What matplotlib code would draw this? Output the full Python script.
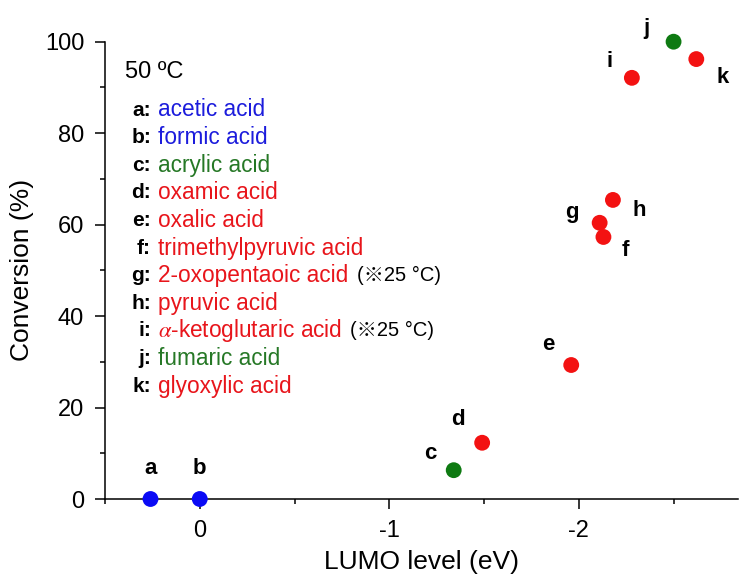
import matplotlib.pyplot as plt
from matplotlib.ticker import MultipleLocator

plt.rcParams['font.family'] = ['Liberation Sans', 'Noto Sans CJK JP', 'DejaVu Sans']
plt.rcParams['mathtext.fontset'] = 'stix'

# data
letters = ['a', 'b', 'c', 'd', 'e', 'f', 'g', 'h', 'i', 'j', 'k']
names = ['acetic acid', 'formic acid', 'acrylic acid', 'oxamic acid', 'oxalic acid',
         'trimethylpyruvic acid', '2-oxopentaoic acid', 'pyruvic acid',
         r'$\alpha$-ketoglutaric acid', 'fumaric acid', 'glyoxylic acid']
notes = ['', '', '', '', '', '', '(※25 °C)', '', '(※25 °C)', '', '']
lumo = [0.26, 0.0, -1.34, -1.49, -1.96, -2.13, -2.11, -2.18, -2.28, -2.50, -2.62]
conversion = [0.0, 0.0, 6.3, 12.3, 29.3, 57.3, 60.4, 65.4, 92.1, 100.0, 96.2]
groups = ['blue', 'blue', 'green', 'red', 'red', 'red', 'red', 'red', 'red', 'green', 'red']

# label offsets around each point (pixels, y up)
label_dx = [0, 0, -23, -24, -23, 22, -28, 26, -22, -27, 26]
label_dy = [31, 31, 17, 23, 21, -14, 10, -11, 16, 13, -18]

marker_colors = {'blue': '#0a0af5', 'green': '#0e7a12', 'red': '#f31212'}
text_colors = {'blue': '#1c1cdc', 'green': '#267826', 'red': '#e8151b'}

fig = plt.figure(figsize=(7.39, 5.83), dpi=100)
ax = fig.add_axes([105 / 739, 84 / 583, 633 / 739, 457.3 / 583])

ax.scatter(lumo, conversion, s=130, c=[marker_colors[g] for g in groups],
           zorder=3, clip_on=False, linewidths=0)

for x, y, lab, dx, dy in zip(lumo, conversion, letters, label_dx, label_dy):
    ax.annotate(lab, (x, y), xytext=(dx, dy), textcoords='offset pixels',
                ha='center', va='center', fontsize=16, fontweight='bold')

ax.set_xlim(0.5, -2.84)
ax.set_ylim(0, 100)
ax.spines['top'].set_visible(False)
ax.spines['right'].set_visible(False)
for sp in ['left', 'bottom']:
    ax.spines[sp].set_linewidth(1.1)

ax.xaxis.set_major_locator(MultipleLocator(1))
ax.xaxis.set_minor_locator(MultipleLocator(0.5))
ax.yaxis.set_major_locator(MultipleLocator(20))
ax.yaxis.set_minor_locator(MultipleLocator(10))
ax.tick_params(which='major', length=7, width=1.1, labelsize=17, pad=8)
ax.tick_params(which='minor', length=3.5, width=1.1)
ax.set_xticks([0, -1, -2])
ax.set_xticklabels(['0', '-1', '-2'])

ax.set_xlabel('LUMO level (eV)', fontsize=19, labelpad=6)
ax.set_ylabel('Conversion (%)', fontsize=19, labelpad=8)

# legend-like list
fig.text(125 / 739, 1 - 72 / 583, '50 ºC', fontsize=17, ha='left', va='center')
for i, (lab, name, note, g) in enumerate(zip(letters, names, notes, groups)):
    yy = 1 - (110 + 27.6 * i) / 583
    fig.text(151 / 739, yy, lab + ':', fontsize=15, fontweight='bold',
             ha='right', va='center')
    t = fig.text(158 / 739, yy, name, fontsize=16.3, color=text_colors[g],
                 ha='left', va='center')
    if note:
        ax.annotate(note, xy=(1, 0.5), xycoords=t, xytext=(6, 0),
                    textcoords='offset points', ha='left', va='center',
                    fontsize=14.5)

fig.savefig('out.png', dpi=100)
